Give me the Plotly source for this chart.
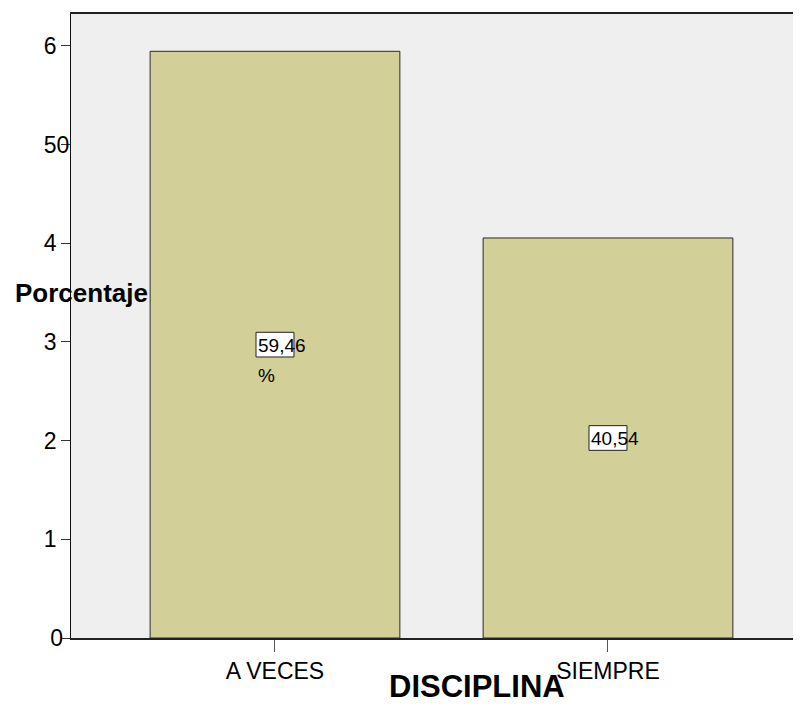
import plotly.graph_objects as go

# Data
categories = ['A VECES', 'SIEMPRE']
percentages = [59.46, 40.54]
bar_labels = ['59,46<br>%', '40,54']
y_tickvals = [0, 10, 20, 30, 40, 50, 60]
y_ticktext = ['0', '1', '2', '3', '4', '50', '6']

FONT = 'Liberation Sans, Arial, sans-serif'

# SPSS-style clipped tick labels sit at uneven distances from the axis
pad = {1: '\u00a0', 2: '\u00a0\u00a0'}
shown_ticks = [t if len(t) > 1 else t + pad[1 if t == '0' else 2] for t in y_ticktext]

fig = go.Figure()

fig.add_trace(go.Bar(
    x=categories,
    y=percentages,
    width=0.75,
    marker=dict(color='#D3CF98', line=dict(color='#2a2a2a', width=1)),
    hoverinfo='skip',
))

# white label boxes + value labels in the middle of each bar
for idx, (val, lab) in enumerate(zip(percentages, bar_labels)):
    fig.add_shape(type='rect', xref='x', yref='y',
                  x0=idx - 0.057, x1=idx + 0.057,
                  y0=val / 2 - 1.25, y1=val / 2 + 1.25,
                  fillcolor='white', line=dict(color='#222222', width=1))
    for i, line in enumerate(lab.split('<br>')):
        fig.add_annotation(x=idx - 0.057, y=val / 2, xref='x', yref='y',
                           text=line, showarrow=False, xanchor='left',
                           yanchor='middle', yshift=-30 * i - 1,
                           font=dict(family=FONT, size=19, color='black'))

# axis titles
fig.add_annotation(x=0.607, y=0, xref='x', yref='paper', yshift=-48,
                   text='<b>DISCIPLINA</b>', showarrow=False,
                   xanchor='center', yanchor='middle',
                   font=dict(family=FONT, size=31, color='black'))
fig.add_annotation(x=0, y=0.553, xref='paper', yref='paper', xshift=-58,
                   text='<b>Porcentaje</b>', showarrow=False,
                   xanchor='left', yanchor='middle',
                   font=dict(family=FONT, size=26, color='black'))

# page body has an 8px margin, so the figure is sized to fit inside it
fig.update_layout(
    width=785, height=697,
    margin=dict(l=63, r=0, t=6, b=67),
    paper_bgcolor='white',
    plot_bgcolor='#EFEFEF',
    showlegend=False,
)

fig.update_xaxes(
    range=[-0.6126, 1.5556],
    showline=True, linecolor='#222222', linewidth=1.5, mirror=True,
    ticks='outside', ticklen=12, tickcolor='#555555', tickwidth=1,
    tickfont=dict(family=FONT, size=23, color='black'),
    showgrid=False, zeroline=False,
)
fig.update_yaxes(
    range=[0, 63.24],
    tickvals=y_tickvals, ticktext=shown_ticks,
    ticklabelstandoff=-13,
    showline=True, linecolor='#111111', linewidth=1,
    ticks='outside', ticklen=9, tickcolor='#333333', tickwidth=1,
    tickfont=dict(family=FONT, size=23, color='black'),
    showgrid=False, zeroline=False,
)

fig.write_html('out.html')
